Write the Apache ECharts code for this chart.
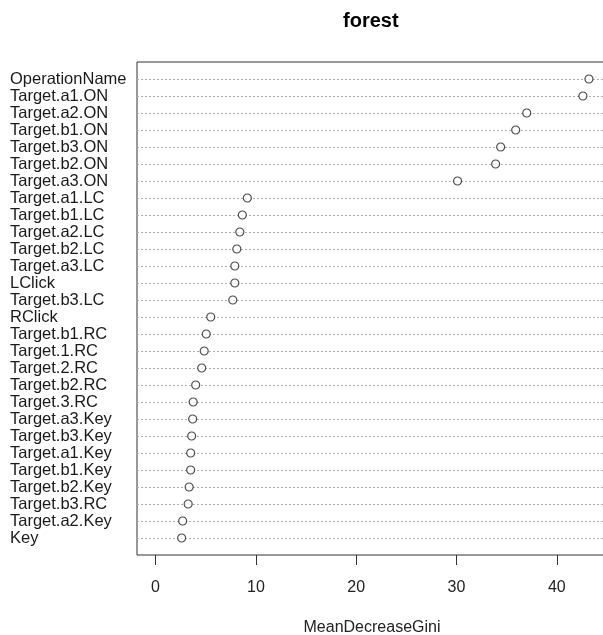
<!DOCTYPE html>
<html>
<head>
<meta charset="utf-8">
<script src="https://cdn.jsdelivr.net/npm/echarts@6/dist/echarts.min.js"></script>
<style>
  html, body { margin: 0; padding: 0; background: #fff; }
  #main { width: 603px; height: 635px; }
</style>
</head>
<body>
<div id="main"></div>
<script>
// variables from top to bottom, as in the dotchart
var names = ['OperationName', 'Target.a1.ON', 'Target.a2.ON', 'Target.b1.ON', 'Target.b3.ON',
  'Target.b2.ON', 'Target.a3.ON', 'Target.a1.LC', 'Target.b1.LC', 'Target.a2.LC',
  'Target.b2.LC', 'Target.a3.LC', 'LClick', 'Target.b3.LC', 'RClick', 'Target.b1.RC',
  'Target.1.RC', 'Target.2.RC', 'Target.b2.RC', 'Target.3.RC', 'Target.a3.Key',
  'Target.b3.Key', 'Target.a1.Key', 'Target.b1.Key', 'Target.b2.Key', 'Target.b3.RC',
  'Target.a2.Key', 'Key']
var gini = [43.2, 42.6, 37.0, 35.9, 34.4, 33.9, 30.1, 9.15, 8.65, 8.4,
  8.1, 7.9, 7.9, 7.7, 5.5, 5.05, 4.85, 4.6, 4.0, 3.75,
  3.7, 3.6, 3.5, 3.5, 3.35, 3.25, 2.7, 2.6]
var xTicks = [0, 10, 20, 30, 40]

// bottom-up categories with an empty slot at each end (R pads the y range)
var cats = [''].concat(names.slice().reverse()).concat([''])
var points = gini.slice().reverse().map(function (v, i) { return [v, i + 1] })

var chart = echarts.init(document.getElementById('main'))
var font = 'Liberation Sans, Arial, sans-serif'

var option = {
  animation: false,
  title: {
    text: 'forest',
    left: 343,
    top: 11,
    padding: 0,
    textStyle: { fontFamily: font, fontSize: 20, fontWeight: 'bold', color: '#000' }
  },
  grid: {
    left: 137,
    top: 62,
    width: 470,
    bottom: 80,
    outerBoundsMode: 'none',
    containLabel: false,
    show: true,
    borderColor: '#333',
    borderWidth: 1,
    backgroundColor: 'transparent'
  },
  xAxis: {
    type: 'value',
    min: -1.85,
    max: 45.0,
    name: 'MeanDecreaseGini',
    nameLocation: 'middle',
    nameGap: 65,
    nameTextStyle: { fontFamily: font, fontSize: 16, color: '#222' },
    axisLine: { show: false },
    splitLine: { show: false },
    axisTick: { show: true, customValues: xTicks, length: 10, lineStyle: { color: '#333' } },
    axisLabel: { customValues: xTicks, margin: 25, fontFamily: font, fontSize: 16, color: '#222' }
  },
  yAxis: {
    type: 'category',
    data: cats,
    boundaryGap: false,
    axisLine: { show: false },
    axisTick: { show: false },
    axisLabel: {
      interval: 0,
      align: 'left',
      margin: 127,
      fontFamily: font,
      fontSize: 16.5,
      color: '#1a1a1a'
    },
    splitLine: {
      show: true,
      interval: function (idx) { return idx > 0 && idx < cats.length - 1 },
      lineStyle: { color: '#b0b0b0', type: [2, 2], width: 1 }
    }
  },
  series: [{
    type: 'scatter',
    data: points,
    symbol: 'circle',
    symbolSize: 8,
    itemStyle: { color: '#fff', borderColor: '#222', borderWidth: 1.2 }
  }]
}
chart.setOption(option)
</script>
</body>
</html>
